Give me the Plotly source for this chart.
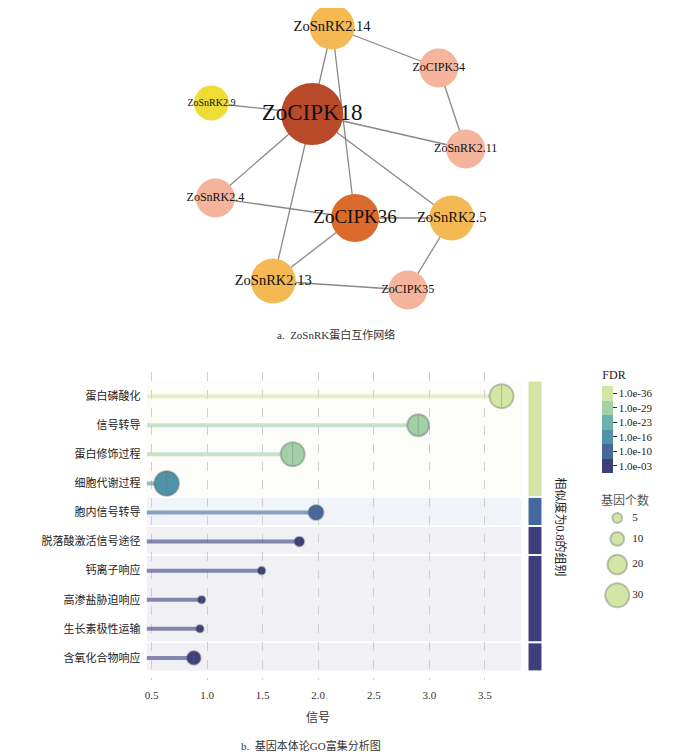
import numpy as np
import plotly.graph_objects as go

W, H = 700, 755
OFF = 8  # page body margin in the browser
SERIF = "Liberation Serif, Noto Sans CJK SC"


def px(x):
    return (x - OFF) / W


def py(y):
    return 1 - (y - OFF) / H


# ---- network data (layout coordinates from the drawing) ----
node_names = ["ZoSnRK2.14", "ZoCIPK34", "ZoSnRK2.9", "ZoCIPK18", "ZoSnRK2.11",
              "ZoSnRK2.4", "ZoCIPK36", "ZoSnRK2.5", "ZoSnRK2.13", "ZoCIPK35"]
node_x = [331, 438, 210, 311, 465, 214, 354, 451, 272, 407]
node_y = [27, 68, 103, 114, 149, 198, 218, 218, 281, 290]
edges = [("ZoSnRK2.14", "ZoCIPK34"), ("ZoSnRK2.14", "ZoCIPK18"), ("ZoSnRK2.14", "ZoCIPK36"),
         ("ZoCIPK34", "ZoSnRK2.11"), ("ZoSnRK2.9", "ZoCIPK18"), ("ZoCIPK18", "ZoSnRK2.11"),
         ("ZoCIPK18", "ZoSnRK2.4"), ("ZoCIPK18", "ZoSnRK2.5"), ("ZoCIPK18", "ZoSnRK2.13"),
         ("ZoSnRK2.4", "ZoCIPK36"), ("ZoCIPK36", "ZoSnRK2.5"), ("ZoCIPK36", "ZoSnRK2.13"),
         ("ZoSnRK2.5", "ZoCIPK35"), ("ZoSnRK2.13", "ZoCIPK35")]

# node degree -> style
deg_size = {6: 62, 4: 48, 3: 45, 2: 39, 1: 35}
deg_font = {6: 23, 4: 19, 3: 14.5, 2: 12, 1: 10}
deg_color = {6: "#b84a2a", 4: "#dc6a2c", 3: "#f4b952", 2: "#f5b49c", 1: "#eedd36"}

# ---- GO enrichment data ----
terms = ["蛋白磷酸化", "信号转导", "蛋白修饰过程", "细胞代谢过程", "胞内信号转导",
         "脱落酸激活信号途径", "钙离子响应", "高渗盐胁迫响应", "生长素极性运输", "含氧化合物响应"]
signal = [3.65, 2.90, 1.77, 0.635, 1.98, 1.83, 1.49, 0.95, 0.935, 0.88]
gene_count = [30, 25, 30, 32, 12, 5, 3, 3, 3, 10]
neg_log_fdr = [37, 30, 29, 17, 10, 4, 3, 3, 3, 4]
group = [1, 1, 1, 1, 2, 3, 4, 4, 4, 5]

fdr_colors = ["#3d3f7d", "#45699b", "#4f93ab", "#6cb3ac", "#a2d1a8", "#d4e6a6"]
size_legend = [5, 10, 20, 30]

fig = go.Figure()

# ---------- network ----------
deg = {n: 0 for n in node_names}
for a, b in edges:
    deg[a] += 1
    deg[b] += 1
pos = {n: (x, y) for n, x, y in zip(node_names, node_x, node_y)}
ex, ey = [], []
for a, b in edges:
    ex += [pos[a][0], pos[b][0], None]
    ey += [pos[a][1], pos[b][1], None]
fig.add_trace(go.Scatter(x=ex, y=ey, mode="lines", xaxis="x2", yaxis="y2",
                         line=dict(color="#8f8585", width=1.3), hoverinfo="skip"))
fig.add_trace(go.Scatter(
    x=node_x, y=node_y, mode="markers+text", xaxis="x2", yaxis="y2",
    text=node_names, textposition="middle center",
    textfont=dict(family=SERIF, color="#111",
                  size=[deg_font[deg[n]] for n in node_names]),
    marker=dict(size=[deg_size[deg[n]] for n in node_names], opacity=1,
                color=[deg_color[deg[n]] for n in node_names], line=dict(width=0)),
))

# ---------- GO lollipop ----------
cmin, cmax = -0.3, 39.3
nb = len(fdr_colors)
step = (cmax - cmin) / nb
cscale = []
for i, c in enumerate(fdr_colors):
    cscale += [[i / nb, c], [(i + 1) / nb, c]]
centers = [cmin + (i + 0.5) * step for i in range(nb)]


def bin_color(v):
    i = int(np.clip((v - cmin) // step, 0, nb - 1))
    return fdr_colors[i]


def rgba(hexc, a):
    h = hexc.lstrip("#")
    return "rgba(%d,%d,%d,%.2f)" % (int(h[0:2], 16), int(h[2:4], 16), int(h[4:6], 16), a)


xmin, xmax = 0.455, 3.83
ypos = list(range(len(terms)))

for yi, xv, f in zip(ypos, signal, neg_log_fdr):
    fig.add_trace(go.Scatter(x=[xmin, xv], y=[yi, yi], mode="lines",
                             line=dict(color=rgba(bin_color(f), 0.6), width=4),
                             hoverinfo="skip"))

# area sizing: diameter = sqrt(2*size/sizeref); largest legend value -> 24 px
sizeref = 2 * 30 / 24 ** 2
fig.add_trace(go.Scatter(
    x=signal, y=ypos, mode="markers",
    marker=dict(size=gene_count, sizemode="area", sizeref=sizeref, opacity=1,
                color=neg_log_fdr, colorscale=cscale, cmin=cmin, cmax=cmax,
                line=dict(color="rgba(90,90,90,0.35)", width=2),
                colorbar=dict(
                    x=px(602), xanchor="left", xpad=0, y=py(473), yanchor="bottom",
                    ypad=0, len=106, lenmode="pixels", thickness=11, outlinewidth=0,
                    tickvals=centers, ticktext=["1.0e-%02d" % round(c) for c in centers],
                    ticks="outside", ticklen=4, tickcolor="#333",
                    tickfont=dict(family=SERIF, size=11, color="#222"),
                    title=dict(text="FDR", side="top",
                               font=dict(family=SERIF, size=12, color="#222")))),
    hovertemplate="%{x}<extra></extra>"))
# thin centre mark inside each bubble
fig.add_trace(go.Scatter(
    x=signal, y=ypos, mode="markers", hoverinfo="skip",
    marker=dict(symbol="line-ns", size=[c * 0.45 for c in gene_count], sizemode="area",
                sizeref=sizeref, opacity=1, color="rgba(0,0,0,0)",
                line=dict(color="rgba(110,110,110,0.4)", width=1))))

# group bands + side strip
shapes = []
for g in sorted(set(group)):
    rows = [i for i, gg in enumerate(group) if gg == g]
    best = max(neg_log_fdr[i] for i in rows)
    col = bin_color(best)
    y0, y1 = min(rows) - 0.5, max(rows) + 0.43
    shapes.append(dict(type="rect", xref="x", yref="y", x0=xmin, x1=xmax, y0=y0, y1=y1,
                       fillcolor=rgba(col, 0.08), line=dict(width=0), layer="below"))
    shapes.append(dict(type="rect", xref="paper", yref="y", x0=px(528), x1=px(541),
                       y0=y0, y1=y1, fillcolor=col, line=dict(width=0), layer="below"))

# size legend (own small axes)
vis_d = [np.sqrt(2 * s / sizeref) + 2 for s in size_legend]
leg_y = [13.0]
for i in range(1, len(size_legend)):
    leg_y.append(leg_y[-1] + vis_d[i - 1] / 2 + vis_d[i] / 2 + 7)
fig.add_trace(go.Scatter(
    x=[22] * len(size_legend), y=leg_y, mode="markers", xaxis="x3", yaxis="y3",
    marker=dict(size=size_legend, sizemode="area", sizeref=sizeref, color=fdr_colors[-1],
                opacity=1, line=dict(color="rgba(90,90,90,0.35)", width=2)),
    hoverinfo="skip"))
fig.add_trace(go.Scatter(
    x=[37] * len(size_legend), y=leg_y, mode="text", xaxis="x3", yaxis="y3",
    text=[str(s) for s in size_legend], textposition="middle right",
    textfont=dict(family=SERIF, size=11, color="#222"), hoverinfo="skip"))


def note(text, x, y, size, color="#333", angle=0):
    return dict(text=text, x=px(x), y=py(y), xref="paper", yref="paper", showarrow=False,
                xanchor="center", yanchor="middle", textangle=angle,
                font=dict(family=SERIF, size=size, color=color))


annotations = [
    note("a.  ZoSnRK蛋白互作网络", 335, 334, 11),
    note("b.  基因本体论GO富集分析图", 310, 745, 11),
    note("信号", 317, 718, 12),
    note("相似度为0.8的组别", 561, 527, 12, "#222", 90),
    note("基因个数", 625, 500, 12, "#555"),
]

fig.update_layout(
    width=W, height=H, margin=dict(l=0, r=0, t=0, b=0),
    paper_bgcolor="white", plot_bgcolor="rgba(0,0,0,0)", showlegend=False,
    font=dict(family=SERIF, color="#222"),
    xaxis=dict(domain=[px(145), px(521)], range=[xmin, xmax],
               tickvals=[0.5, 1, 1.5, 2, 2.5, 3, 3.5],
               ticktext=["0.5", "1.0", "1.5", "2.0", "2.5", "3.0", "3.5"],
               showgrid=True, gridcolor="#cfcfcf", griddash="dash", gridwidth=0.8,
               zeroline=False, showline=False, ticks="outside", ticklen=5,
               tickcolor="rgba(0,0,0,0)", tickfont=dict(family=SERIF, size=11, color="#333")),
    yaxis=dict(domain=[py(680), py(372)], range=[9.76, -0.83], tickvals=ypos,
               ticktext=terms, showgrid=False, zeroline=False, showline=False,
               ticks="outside", ticklen=3, tickcolor="rgba(0,0,0,0)",
               tickfont=dict(family=SERIF, size=11, color="#222")),
    xaxis2=dict(domain=[0, 1], range=[OFF, W + OFF], visible=False, anchor="y2"),
    yaxis2=dict(domain=[py(328), 1], range=[328, OFF], visible=False, anchor="x2"),
    xaxis3=dict(domain=[px(595), px(665)], range=[0, 70], visible=False, anchor="y3"),
    yaxis3=dict(domain=[py(610), py(505)], range=[105, 0], visible=False, anchor="x3"),
    shapes=shapes, annotations=annotations,
)

fig.write_html("out.html")
